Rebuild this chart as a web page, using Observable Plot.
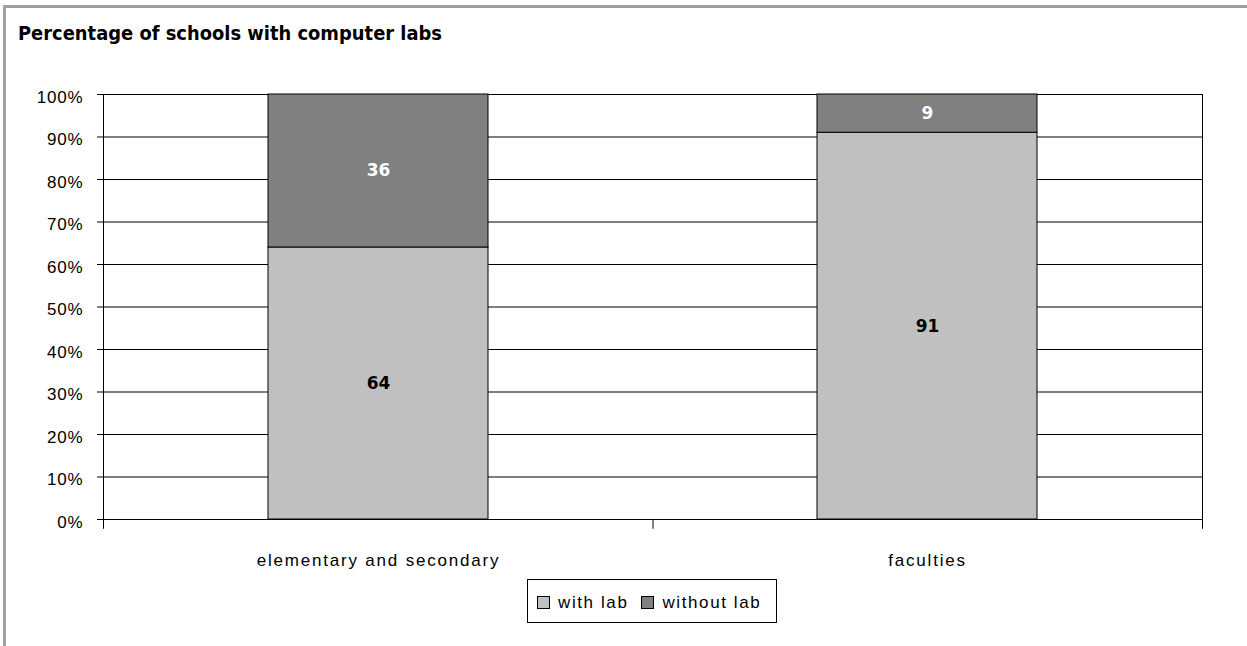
<!DOCTYPE html>
<html>
<head>
<meta charset="utf-8">
<script src="https://cdn.jsdelivr.net/npm/d3@7"></script>
<script src="https://cdn.jsdelivr.net/npm/@observablehq/plot@0.6"></script>
<style>
  html, body { margin: 0; padding: 0; background: #fff; }
  #wrap { position: relative; width: 1247px; height: 646px; overflow: hidden; background: #fff; }
  #frameTop { position: absolute; left: 3px; top: 5px; width: 1244px; height: 0; border-top: 3px solid #a0a0a0; }
  #frameLeft { position: absolute; left: 3px; top: 5px; width: 0; height: 641px; border-left: 3px solid #a0a0a0; }
  #title { position: absolute; left: 18px; top: 21px; font-family: "Liberation Sans Narrow", "DejaVu Sans Condensed", sans-serif; font-weight: bold; font-size: 20px; color: #000; white-space: nowrap; transform-origin: 0 0; }
  #chart { position: absolute; left: 0; top: 0; }
  #legend { position: absolute; left: 527px; top: 579px; width: 250px; height: 44px; border: 1px solid #000; box-sizing: border-box; display: flex; align-items: center; justify-content: flex-start; padding-left: 9px; padding-top: 4px; gap: 13px; font-family: "Liberation Sans", sans-serif; font-size: 17px; letter-spacing: 1.6px; }
  .item { display: flex; align-items: center; gap: 8px; }
  .sw { width: 13px; height: 13px; border: 1px solid #000; box-sizing: border-box; margin-top: -2px; }
</style>
</head>
<body>
<div id="wrap">
  <div id="chart"></div>
  <div id="frameTop"></div>
  <div id="frameLeft"></div>
  <div id="title"></div>
  <div id="legend"></div>
</div>
<script>
const titleText = "Percentage of schools with computer labs";
const categories = ["elementary and secondary", "faculties"];
const series = ["with lab", "without lab"];
const withLab = [64, 91];
const withoutLab = [36, 9];
const colors = ["#c0c0c0", "#808080"];
const yTicks = [0, 10, 20, 30, 40, 50, 60, 70, 80, 90, 100];

const data = [];
categories.forEach((c, i) => {
  data.push({category: c, status: series[0], value: withLab[i]});
  data.push({category: c, status: series[1], value: withoutLab[i]});
});

const titleEl = document.getElementById("title");
titleEl.textContent = titleText;

const labelFont = "Liberation Sans, sans-serif";
const dims = {width: 1247, height: 646, marginTop: 94, marginBottom: 127, marginLeft: 103, marginRight: 45};

const plot = Plot.plot({
  ...dims,
  style: {background: "transparent", fontFamily: labelFont, fontSize: "17px", color: "#000"},
  x: {domain: categories, paddingInner: 0.6, paddingOuter: 0.3, label: null},
  y: {domain: [0, 100], label: null},
  color: {domain: series, range: colors},
  marks: [
    Plot.ruleY(yTicks, {stroke: "#000", strokeWidth: 1}),
    Plot.frame({stroke: "#000", strokeWidth: 1}),
    Plot.barY(data, {x: "category", y: "value", fill: "status", stroke: "#000", strokeWidth: 1, order: series}),
    Plot.text(data, Plot.stackY({x: "category", y: "value", z: "status", order: series,
      text: d => d.status === series[0] ? String(d.value) : "", fill: "#000",
      fontFamily: "DejaVu Sans, sans-serif", fontWeight: "bold", fontSize: 17})),
    Plot.text(data, Plot.stackY({x: "category", y: "value", z: "status", order: series,
      text: d => d.status === series[1] ? String(d.value) : "", fill: "#fff",
      fontFamily: "DejaVu Sans, sans-serif", fontWeight: "bold", fontSize: 17})),
    // tick marks only
    Plot.axisY({ticks: yTicks, tickFormat: () => "", tickSize: 6, stroke: "#000", strokeWidth: 1}),
    // tick labels only
    Plot.axisY({ticks: yTicks, tickFormat: d => d + "%", tickSize: 0, tickPadding: 20, dy: 3, fontSize: 17}),
    Plot.axisX({tickSize: 0, tickPadding: 34, fontSize: 17})
  ]
});
document.getElementById("chart").appendChild(plot);

// widen letter spacing of axis tick labels to match the reference rendering
d3.select(plot).selectAll('g[aria-label="x-axis tick label"]').attr("letter-spacing", "1.8px");
d3.select(plot).selectAll('g[aria-label="y-axis tick label"]').attr("letter-spacing", "0.8px");

// boundary tick marks between categories on the x axis
const overlay = Plot.plot({
  ...dims,
  style: {background: "transparent"},
  x: {domain: [0, categories.length], axis: null},
  y: {domain: [0, 100], axis: null},
  marks: [
    Plot.ruleX(d3.range(categories.length + 1), {y1: 0, y2: -2.3, stroke: "#000", strokeWidth: 1})
  ]
});
overlay.style.position = "absolute";
overlay.style.left = "0";
overlay.style.top = "0";
document.getElementById("chart").appendChild(overlay);

// title horizontal fit
const tw = titleEl.getBoundingClientRect().width;
if (tw > 0) titleEl.style.transform = `scaleX(${424 / tw})`;

// legend
const legend = document.getElementById("legend");
series.forEach((s, i) => {
  const item = document.createElement("div");
  item.className = "item";
  const sw = document.createElement("div");
  sw.className = "sw";
  sw.style.background = colors[i];
  const t = document.createElement("span");
  t.textContent = s;
  item.appendChild(sw);
  item.appendChild(t);
  legend.appendChild(item);
});
</script>
</body>
</html>
